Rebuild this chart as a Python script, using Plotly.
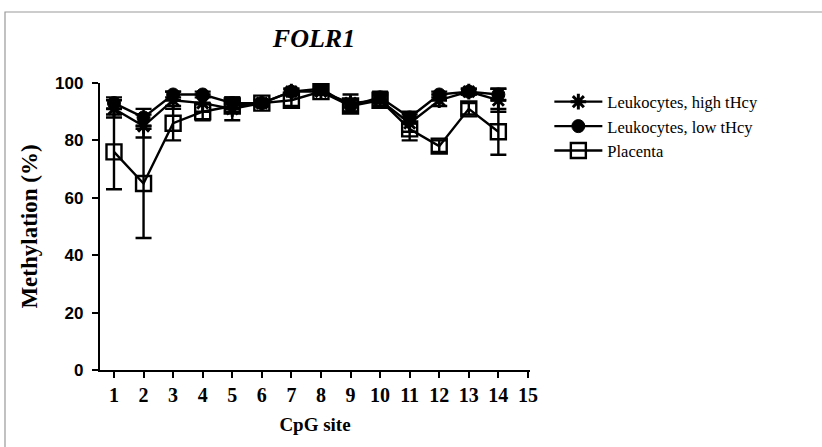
import plotly.graph_objects as go

cpg_sites = list(range(1, 15))
x_tick_vals = list(range(1, 16))
x_tick_text = [str(v) for v in x_tick_vals]
y_tick_vals = [0, 20, 40, 60, 80, 100]

leuk_high = [91, 85, 94, 93, 91, 93, 97, 97, 93, 94, 86, 94, 97, 94]
leuk_high_err = [3, 4, 3, 3, 4, 1, 1, 1, 3, 2, 3, 2, 1, 4]
leuk_low = [93, 88, 96, 96, 93, 93, 97, 98, 92, 95, 88, 96, 97, 96]
leuk_low_err = [2, 3, 1, 1, 2, 1, 1, 1, 2, 2, 2, 1, 1, 2]
placenta = [76, 65, 86, 90, 92, 93, 94, 97, 92, 94, 84, 78, 91, 83]
placenta_err = [13, 19, 6, 3, 2, 1, 2, 1, 2, 2, 4, 2, 2, 8]

SERIF = "Liberation Serif"
SANS = "Liberation Sans"

fig = go.Figure()

def add_series(name, y, err, symbol, size, lw):
    fig.add_trace(go.Scatter(
        x=cpg_sites, y=y, name=name, mode="lines+markers",
        line=dict(color="black", width=2.4),
        marker=dict(symbol=symbol, size=size, color="black",
                    line=dict(color="black", width=lw)),
        error_y=dict(type="data", array=err, visible=True,
                     color="black", thickness=2.4, width=8),
    ))

add_series("Leukocytes, high tHcy", leuk_high, leuk_high_err, "asterisk-open", 13, 3)
add_series("Leukocytes, low tHcy", leuk_low, leuk_low_err, "circle", 13, 1)
add_series("Placenta", placenta, placenta_err, "square-open", 15, 2.4)

# plot area in pixels
L, T = 100, 83
W, H = 430, 287
def px_to_paper_x(px):
    return (px - L) / W
def px_to_paper_y(py):
    return (T + H - py) / H

# grey frame around the figure
fig.add_shape(type="rect", xref="paper", yref="paper",
              x0=px_to_paper_x(5), x1=px_to_paper_x(840),
              y0=px_to_paper_y(460), y1=px_to_paper_y(12),
              line=dict(color="#999999", width=1.2), fillcolor="rgba(0,0,0,0)",
              layer="below")

fig.update_layout(
    width=822, height=447,
    margin=dict(l=L, r=822 - L - W, t=T, b=447 - T - H),
    paper_bgcolor="white", plot_bgcolor="white",
    showlegend=True,
    legend=dict(x=1.045, y=0.995, xanchor="left", yanchor="top",
                font=dict(family=SERIF, size=16.5, color="black"),
                bgcolor="rgba(0,0,0,0)", itemwidth=48, tracegroupgap=0),
    title=dict(text="<b><i>FOLR1</i></b>", x=px_to_paper_x(314), xref="paper",
               xanchor="center", y=1 - 38 / 447, yanchor="middle",
               font=dict(family=SERIF, size=26, color="black")),
    xaxis=dict(range=[0.527, 15.07], tickmode="array", tickvals=x_tick_vals,
               ticktext=x_tick_text, showgrid=False, zeroline=False,
               showline=True, linecolor="black", linewidth=2.4,
               ticks="outside", ticklen=6, tickwidth=2.2, tickcolor="black",
               tickfont=dict(family=SERIF, size=20, color="black", weight="bold"),
               title=dict(text="<b>CpG site</b>", standoff=12,
                          font=dict(family=SERIF, size=19, color="black"))),
    yaxis=dict(range=[0, 100], tickmode="array", tickvals=y_tick_vals,
               showgrid=False, zeroline=False,
               showline=True, linecolor="black", linewidth=2.4,
               ticks="outside", ticklen=6, tickwidth=2.2, tickcolor="black",
               ticklabelstandoff=5,
               tickfont=dict(family=SANS, size=17, color="black", weight="bold"),
               title=dict(text="<b>Methylation (%)</b>", standoff=11,
                          font=dict(family=SERIF, size=23, color="black"))),
)

fig.write_html("out.html", config={"displayModeBar": False},
               post_script="document.body.style.margin='0px';")
